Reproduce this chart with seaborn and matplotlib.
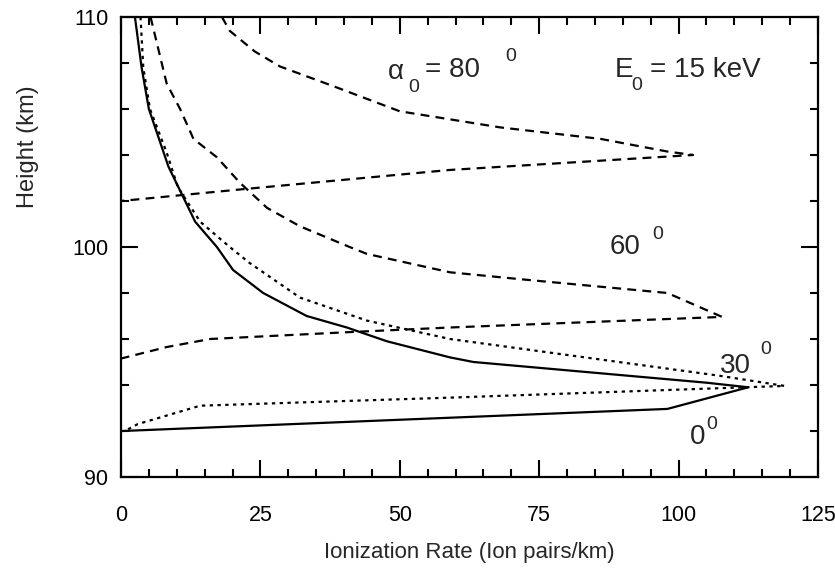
import matplotlib
matplotlib.use("Agg")
import matplotlib.pyplot as plt
import seaborn as sns
import pandas as pd
from matplotlib.ticker import MultipleLocator

# ---- data ----
# 0 deg (solid): upper branch -> peak -> lower branch
x_00 = [2.5, 3.7, 5.0, 8.5, 13.3, 17.2, 20.1, 25.5, 33.3, 40.5, 47.7, 59.0, 63.2, 105.0, 112.5, 98.0, 0.3]
y_00 = [110.0, 107.8, 106.0, 103.5, 101.1, 100.0, 99.0, 98.0, 97.0, 96.5, 95.9, 95.2, 95.0, 94.1, 93.9, 92.96, 92.0]
# 30 deg (dotted)
x_30 = [3.5, 4.0, 5.2, 8.2, 10.2, 14.2, 19.5, 23.1, 32.1, 44.1, 59.0, 107.4, 119.0, 59.0, 14.2, 3.0, 0.7]
y_30 = [110.0, 107.8, 106.0, 104.1, 102.6, 101.1, 100.0, 99.3, 97.8, 96.8, 96.0, 94.4, 93.96, 93.45, 93.1, 92.3, 92.0]
# 60 deg (dashed)
x_60 = [5.3, 8.2, 10.6, 13.0, 17.2, 21.3, 26.2, 32.1, 41.0, 44.1, 59.0, 71.6, 98.0, 107.8, 59.0, 41.0, 16.0, 8.2, 0.0]
y_60 = [110.0, 107.1, 106.0, 104.7, 103.9, 102.8, 101.7, 100.9, 100.0, 99.7, 98.9, 98.6, 98.0, 96.96, 96.5, 96.3, 96.0, 95.65, 95.15]
# 80 deg (dashed)
x_80 = [18.1, 19.5, 24.0, 28.5, 38.0, 50.0, 68.0, 86.0, 98.0, 102.6, 59.0, 21.3, 0.0]
y_80 = [110.0, 109.4, 108.5, 107.85, 107.0, 105.9, 105.2, 104.7, 104.15, 104.0, 103.35, 102.5, 102.0]

x_ticks = [0, 25, 50, 75, 100, 125]
y_ticks = [90, 100, 110]

curves = [
    ("0", x_00, y_00, "-"),
    ("30", x_30, y_30, (0, (1.5, 2.0))),
    ("60", x_60, y_60, (0, (4.0, 2.8))),
    ("80", x_80, y_80, (0, (4.0, 2.8))),
]

sns.set_style("ticks")
plt.rcParams["font.family"] = ["Liberation Sans", "DejaVu Sans"]

fig = plt.figure(figsize=(8.35, 5.72), dpi=100)
ax = fig.add_axes([0.1449, 0.1661, 0.8347, 0.8042])

for name, xs, ys, ls in curves:
    df = pd.DataFrame({"rate": xs, "height": ys})
    sns.lineplot(data=df, x="rate", y="height", sort=False, estimator=None,
                 color="black", linewidth=1.6, linestyle=ls, ax=ax)

ax.set_xlim(0, 125)
ax.set_ylim(90, 110)
ax.set_xticks(x_ticks)
ax.set_yticks(y_ticks)
ax.xaxis.set_minor_locator(MultipleLocator(5))
ax.yaxis.set_minor_locator(MultipleLocator(2))
ax.tick_params(which="both", direction="in", top=True, right=True,
               width=1.5, colors="black", labelsize=15.5)
ax.tick_params(which="major", length=12)
ax.tick_params(which="minor", length=6)
ax.tick_params(axis="x", pad=20)
ax.tick_params(axis="y", pad=9)
for s in ax.spines.values():
    s.set_linewidth(1.6)
    s.set_color("black")

ax.set_xlabel("Ionization Rate (Ion pairs/km)", fontsize=16)
ax.set_ylabel("Height (km)", fontsize=17)
ax.xaxis.set_label_coords(0.5, -0.165)
ax.yaxis.set_label_coords(-0.133, 0.717)
ax.xaxis.label.set_va("center")
ax.yaxis.label.set_va("center")

fs = 20
sfs = 14
# alpha_0 = 80 ^0
ax.text(47.9, 107.6, "\u03b1", fontsize=fs, va="center", ha="left")
ax.text(51.6, 106.95, "0", fontsize=sfs, va="center", ha="left")
ax.text(54.5, 107.7, "= 80", fontsize=fs, va="center", ha="left")
ax.text(68.9, 108.3, "0", fontsize=sfs, va="center", ha="left")
# E_0 = 15 keV
ax.text(88.6, 107.7, "E", fontsize=fs, va="center", ha="left")
ax.text(91.6, 107.0, "0", fontsize=sfs, va="center", ha="left")
ax.text(94.9, 107.7, "= 15 keV", fontsize=fs, va="center", ha="left")
# 60^0
ax.text(87.7, 100.0, "60", fontsize=fs, va="center", ha="left")
ax.text(95.2, 100.55, "0", fontsize=sfs, va="center", ha="left")
# 30^0
ax.text(107.4, 94.83, "30", fontsize=fs, va="center", ha="left")
ax.text(114.6, 95.55, "0", fontsize=sfs, va="center", ha="left")
# 0^0
ax.text(102.0, 91.74, "0", fontsize=fs, va="center", ha="left")
ax.text(104.9, 92.3, "0", fontsize=sfs, va="center", ha="left")

fig.savefig("out.png", dpi=100)
